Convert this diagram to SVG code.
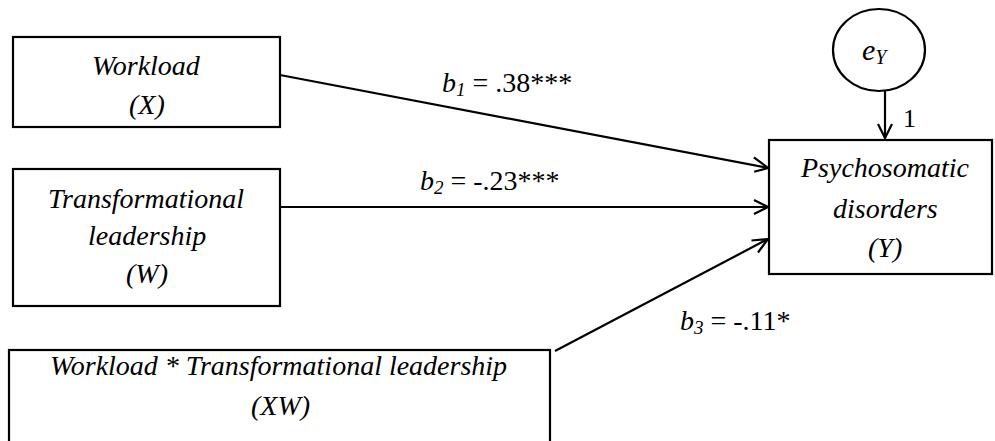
<svg xmlns="http://www.w3.org/2000/svg" width="995" height="441" viewBox="0 0 995 441">
<rect width="995" height="441" fill="#fff"/>
<g id="connectors" fill="none" stroke="#000" stroke-width="2.2">
<line x1="280" y1="75" x2="768" y2="168"/>
<polyline points="753.9,157.4 768,168 754.2,171.8"/>
<line x1="280" y1="207" x2="768" y2="207"/>
<polyline points="754,200 768,207 754,214"/>
<line x1="555" y1="351" x2="768" y2="239"/>
<polyline points="751.5,240.5 768,239 758,252.5"/>
<line x1="885" y1="91" x2="885" y2="138"/>
<polyline points="878,124 885,138 892,124"/>
</g>
<g id="node-x">
<rect x="13" y="37" width="267" height="90" fill="#fff" stroke="#000" stroke-width="2.2"/>
<text x="92" y="75" font-family="Liberation Serif" font-size="28" font-style="italic">Workload</text>
<text x="129" y="114" font-family="Liberation Serif" font-size="28" font-style="italic">(X)</text>
</g>
<g id="node-w">
<rect x="13" y="169" width="267" height="137" fill="#fff" stroke="#000" stroke-width="2.2"/>
<text x="48" y="208" font-family="Liberation Serif" font-size="28" font-style="italic">Transformational</text>
<text x="88" y="245" font-family="Liberation Serif" font-size="28" font-style="italic">leadership</text>
<text x="126" y="283" font-family="Liberation Serif" font-size="28" font-style="italic">(W)</text>
</g>
<g id="node-xw">
<rect x="9" y="350" width="541" height="100" fill="#fff" stroke="#000" stroke-width="2.2"/>
<text x="50" y="375" font-family="Liberation Serif" font-size="28" font-style="italic">Workload * Transformational leadership</text>
<text x="251" y="415" font-family="Liberation Serif" font-size="28" font-style="italic">(XW)</text>
</g>
<g id="node-y">
<rect x="769" y="140" width="223" height="134" fill="#fff" stroke="#000" stroke-width="2.2"/>
<text x="801" y="177" font-family="Liberation Serif" font-size="28" font-style="italic">Psychosomatic</text>
<text x="833" y="218" font-family="Liberation Serif" font-size="28" font-style="italic">disorders</text>
<text x="868" y="257" font-family="Liberation Serif" font-size="28" font-style="italic">(Y)</text>
</g>
<g id="node-ey">
<ellipse cx="879" cy="50" rx="46" ry="41" fill="#fff" stroke="#000" stroke-width="2.2"/>
<text x="862" y="60" font-family="Liberation Serif" font-size="30" font-style="italic">e<tspan font-size="20" dy="4">Y</tspan></text>
</g>
<g id="labels">
<text x="442" y="92" font-family="Liberation Serif" font-size="28"><tspan font-style="italic">b</tspan><tspan font-style="italic" font-size="19" dy="4">1</tspan><tspan dy="-4"> = .38***</tspan></text>
<text x="420" y="190" font-family="Liberation Serif" font-size="28"><tspan font-style="italic">b</tspan><tspan font-style="italic" font-size="19" dy="4">2</tspan><tspan dy="-4"> = -.23***</tspan></text>
<text x="680" y="330" font-family="Liberation Serif" font-size="28"><tspan font-style="italic">b</tspan><tspan font-style="italic" font-size="19" dy="4">3</tspan><tspan dy="-4"> = -.11*</tspan></text>
<text x="903" y="127" font-family="Liberation Serif" font-size="26">1</text>
</g>
</svg>
